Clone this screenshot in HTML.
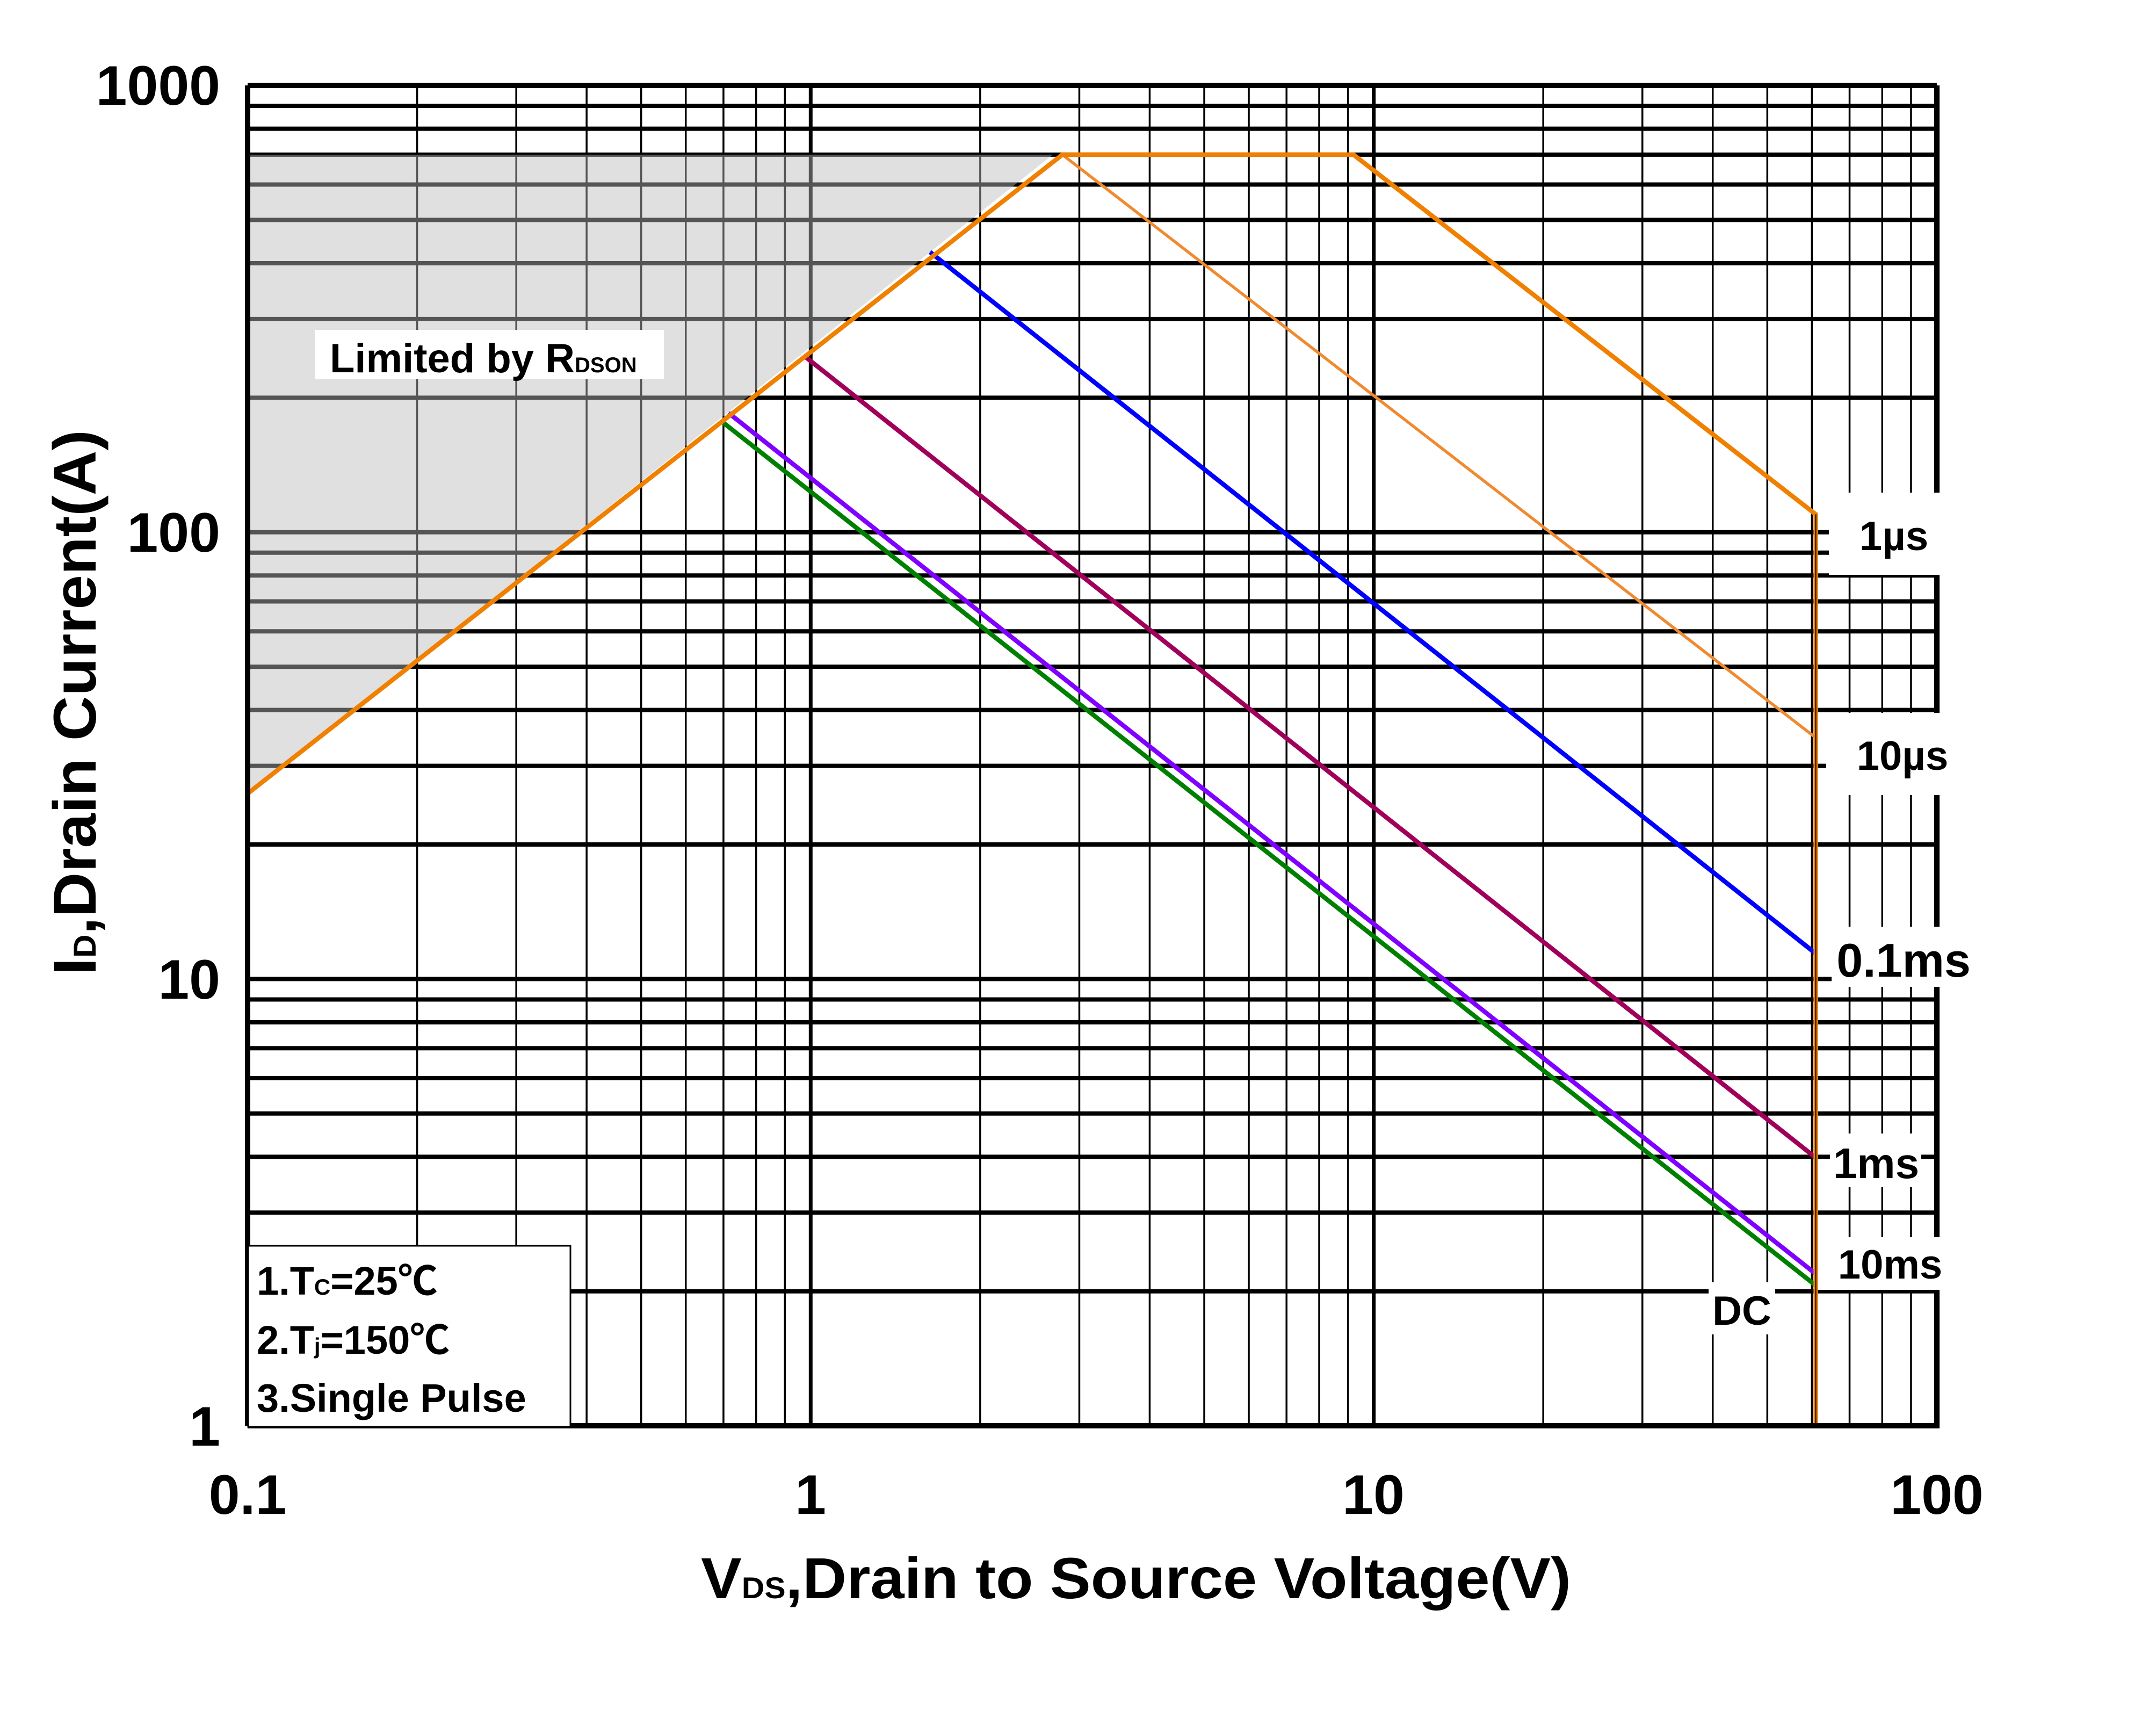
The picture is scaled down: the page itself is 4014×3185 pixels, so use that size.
<!DOCTYPE html>
<html><head><meta charset="utf-8"><style>
html,body{margin:0;padding:0;background:#fff;}
svg{display:block;}
text{font-family:"Liberation Sans","Noto Sans CJK SC",sans-serif;font-weight:bold;fill:#000;}
</style></head><body>
<svg width="4014" height="3185" viewBox="0 0 4014 3185" xmlns="http://www.w3.org/2000/svg">
<rect width="4014" height="3185" fill="#fff"/>
<g transform="matrix(1048.3 0 0 -831.7 1509.3 2654.1)" fill="none">
<path vector-effect="non-scaling-stroke" stroke="#000" stroke-width="3.5" d="
M-0.69897 0V3M-0.52288 0V3M-0.39794 0V3M-0.30103 0V3M-0.22185 0V3M-0.15490 0V3M-0.09691 0V3M-0.04576 0V3
M0.30103 0V3M0.47712 0V3M0.60206 0V3M0.69897 0V3M0.77815 0V3M0.84510 0V3M0.90309 0V3M0.95424 0V3
M1.30103 0V3M1.47712 0V3M1.60206 0V3M1.69897 0V3M1.77815 0V3M1.84510 0V3M1.90309 0V3M1.95424 0V3"/>
<path vector-effect="non-scaling-stroke" stroke="#000" stroke-width="7" d="M0 0V3M1 0V3"/>
<path vector-effect="non-scaling-stroke" stroke="#000" stroke-width="8" d="
M-1 0.30103H2M-1 0.47712H2M-1 0.60206H2M-1 0.69897H2M-1 0.77815H2M-1 0.84510H2M-1 0.90309H2M-1 0.95424H2
M-1 1H2
M-1 1.30103H2M-1 1.47712H2M-1 1.60206H2M-1 1.69897H2M-1 1.77815H2M-1 1.84510H2M-1 1.90309H2M-1 1.95424H2
M-1 2H2
M-1 2.30103H2M-1 2.47712H2M-1 2.60206H2M-1 2.69897H2M-1 2.77815H2M-1 2.84510H2M-1 2.90309H2M-1 2.95424H2"/>
<polygon points="-1,2.845 0.43,2.845 -1,1.415" fill="rgb(187,187,187)" fill-opacity="0.455"/>
<polyline vector-effect="non-scaling-stroke" stroke="#f08a30" stroke-width="5.5" points="0.447,2.845 1.785,1.54"/>
<polyline vector-effect="non-scaling-stroke" stroke="#0000ff" stroke-width="8.5" points="0.212,2.627 1.785,1.057"/>
<polyline vector-effect="non-scaling-stroke" stroke="#a0005a" stroke-width="8.5" points="-0.013,2.396 1.785,0.6"/>
<polyline vector-effect="non-scaling-stroke" stroke="#8000ff" stroke-width="8.5" points="-0.146,2.267 1.785,0.34"/>
<polyline vector-effect="non-scaling-stroke" stroke="#008000" stroke-width="8.5" points="-0.155,2.245 1.785,0.314"/>
<polyline vector-effect="non-scaling-stroke" stroke="#f08000" stroke-width="8.5" points="-1,1.415 0.447,2.845 0.964,2.845 1.785,2.04 1.785,0"/>
<polyline vector-effect="non-scaling-stroke" stroke="#222" stroke-width="2.5" points="1.785,2.04 1.785,0"/>
</g>
<rect x="3405" y="917" width="260" height="153" fill="#fff"/>
<rect x="3400" y="1327" width="265" height="153" fill="#fff"/>
<rect x="3410" y="1725" width="255" height="112" fill="#fff"/>
<rect x="3407" y="2110" width="170" height="100" fill="#fff"/>
<rect x="3385" y="2303" width="280" height="98" fill="#fff"/>
<rect x="3181" y="2387" width="124" height="97" fill="#fff"/>
<path d="M461 159H3606M461 2654H3606M461 159V2654" stroke="#000" stroke-width="10" fill="none"/>
<path d="M3606 159V917M3606 1070V1327M3606 1480V1725M3606 1837V2303M3606 2401V2659" stroke="#000" stroke-width="10" fill="none"/>
<rect x="586" y="614" width="650" height="92" fill="#fff"/>
<text x="614" y="693" font-size="76">Limited by R<tspan font-size="40">DSON</tspan></text>
<rect x="462" y="2319" width="600" height="337" fill="#fff" stroke="#000" stroke-width="3"/>
<text x="478" y="2410" font-size="74">1.T<tspan font-size="42">C</tspan>=25℃</text>
<text x="478" y="2520" font-size="74">2.T<tspan font-size="42">j</tspan>=150℃</text>
<text x="478" y="2628" font-size="74">3.Single Pulse</text>
<text x="3526" y="1024" font-size="76" text-anchor="middle">1µs</text>
<text x="3542" y="1433" font-size="76" text-anchor="middle">10µs</text>
<text x="3544" y="1818" font-size="88" text-anchor="middle">0.1ms</text>
<text x="3493" y="2193" font-size="80" text-anchor="middle">1ms</text>
<text x="3519" y="2380" font-size="76" text-anchor="middle">10ms</text>
<text x="3243" y="2466" font-size="76" text-anchor="middle">DC</text>
<text x="410" y="195" font-size="104" text-anchor="end">1000</text>
<text x="410" y="1027" font-size="104" text-anchor="end">100</text>
<text x="410" y="1859" font-size="104" text-anchor="end">10</text>
<text x="410" y="2691" font-size="104" text-anchor="end">1</text>
<text x="461" y="2818" font-size="104" text-anchor="middle">0.1</text>
<text x="1509" y="2818" font-size="104" text-anchor="middle">1</text>
<text x="2557" y="2818" font-size="104" text-anchor="middle">10</text>
<text x="3606" y="2818" font-size="104" text-anchor="middle">100</text>
<text x="1305" y="2975" font-size="108" textLength="1620" lengthAdjust="spacingAndGlyphs">V<tspan font-size="56">DS</tspan>,Drain to Source Voltage(V)</text>
<text transform="translate(178,1815) rotate(-90)" x="0" y="0" font-size="112" textLength="1015" lengthAdjust="spacingAndGlyphs">I<tspan font-size="58">D</tspan>,Drain Current(A)</text>
</svg>
</body></html>
